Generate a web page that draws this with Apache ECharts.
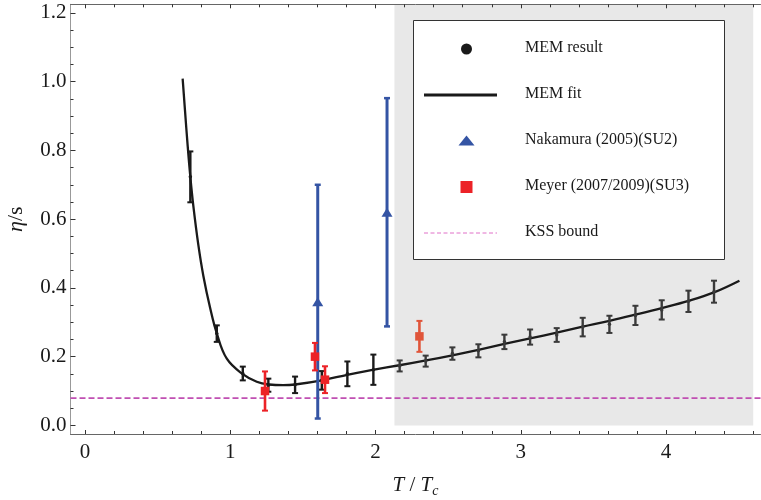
<!DOCTYPE html>
<html>
<head>
<meta charset="utf-8">
<script src="https://cdn.jsdelivr.net/npm/echarts@6/dist/echarts.min.js"></script>
<style>
  html, body { margin: 0; padding: 0; background: #fff; }
  #chart { width: 761px; height: 500px; }
</style>
</head>
<body>
<div id="chart"></div>
<script>
// MEM result: eta/s with error estimates, below and above the shaded region start
const memLowT   = [0.725, 0.907, 1.086, 1.262, 1.446, 1.630, 1.806, 1.985];
const memLowEta = [0.723, 0.267, 0.151, 0.117, 0.118, 0.131, 0.150, 0.162];
const memLowErr = [0.074, 0.024, 0.020, 0.019, 0.024, 0.027, 0.036, 0.044];

const memHighT   = [2.166, 2.345, 2.529, 2.708, 2.887, 3.064, 3.247, 3.426, 3.610, 3.789, 3.970, 4.154, 4.330];
const memHighEta = [0.173, 0.187, 0.209, 0.217, 0.243, 0.257, 0.263, 0.286, 0.294, 0.320, 0.336, 0.361, 0.389];
const memHighErr = [0.016, 0.016, 0.018, 0.019, 0.021, 0.022, 0.020, 0.027, 0.025, 0.028, 0.028, 0.031, 0.032];

// MEM fit curve
const fitT   = [0.672, 0.688, 0.705, 0.725, 0.746, 0.780, 0.815, 0.861, 0.907, 0.976, 1.086, 1.182, 1.267, 1.365, 1.446, 1.630, 1.813, 1.990, 2.164, 2.348, 2.529, 2.708, 2.887, 3.064, 3.247, 3.426, 3.610, 3.789, 3.970, 4.154, 4.330, 4.505];
const fitEta = [1.009, 0.917, 0.822, 0.723, 0.637, 0.525, 0.434, 0.342, 0.268, 0.194, 0.149, 0.127, 0.119, 0.117, 0.119, 0.131, 0.148, 0.162, 0.175, 0.189, 0.204, 0.220, 0.237, 0.253, 0.270, 0.287, 0.304, 0.322, 0.341, 0.362, 0.387, 0.421];

// Nakamura (2005) SU(2)
const nakT   = [1.602, 2.079];
const nakEta = [0.360, 0.620];
const nakErr = [0.340, 0.332];

// Meyer (2007/2009) SU(3)
const meyerT   = [1.239, 1.583, 1.652];
const meyerEta = [0.100, 0.200, 0.133];
const meyerErr = [0.057, 0.040, 0.039];
const meyer09T   = [2.302];
const meyer09Eta = [0.259];
const meyer09Err = [0.045];

// KSS bound 1/(4 pi)
const kssEta = 1 / (4 * Math.PI);

// shaded temperature window
const shadeT   = [2.13, 4.60];
const shadeEta = [0.0, 1.225];

// axis ticks
const xMajor = [0, 1, 2, 3, 4];
const xMinor = [0.2, 0.4, 0.6, 0.8, 1.2, 1.4, 1.6, 1.8, 2.2, 2.4, 2.6, 2.8, 3.2, 3.4, 3.6, 3.8, 4.2, 4.4, 4.6];
const yMajor = [0.0, 0.2, 0.4, 0.6, 0.8, 1.0, 1.2];
const yMinor = [0.05, 0.1, 0.15, 0.25, 0.3, 0.35, 0.45, 0.5, 0.55, 0.65, 0.7, 0.75, 0.85, 0.9, 0.95, 1.05, 1.1, 1.15];

const X_MIN = -0.1, X_MAX = 4.65, Y_MIN = -0.025, Y_MAX = 1.225;
const SERIF = '"Liberation Serif", "Times New Roman", serif';

const pair = (xs, ys) => xs.map((x, i) => [x, ys[i]]);
const triple = (xs, ys, es) => xs.map((x, i) => [x, ys[i], es[i]]);

function errorBars(name, data, opt) {
  return {
    type: 'custom',
    name: name,
    data: data,
    encode: { x: 0, y: 1 },
    z: opt.z || 5,
    silent: true,
    renderItem: function (params, api) {
      const x = api.value(0), y = api.value(1), e = api.value(2);
      const top = api.coord([x, y + e]);
      const bot = api.coord([x, y - e]);
      const c = api.coord([x, y]);
      const hw = opt.cap / 2;
      const children = [
        { type: 'line', shape: { x1: top[0], y1: top[1], x2: bot[0], y2: bot[1] },
          style: { stroke: opt.color, lineWidth: opt.lw } },
        { type: 'line', shape: { x1: top[0] - hw, y1: top[1], x2: top[0] + hw, y2: top[1] },
          style: { stroke: opt.color, lineWidth: opt.capW } },
        { type: 'line', shape: { x1: bot[0] - hw, y1: bot[1], x2: bot[0] + hw, y2: bot[1] },
          style: { stroke: opt.color, lineWidth: opt.capW } }
      ];
      const s = opt.size;
      if (opt.marker === 'circle') {
        children.push({ type: 'circle', shape: { cx: c[0], cy: c[1], r: s / 2 }, style: { fill: opt.color } });
      } else if (opt.marker === 'triangle') {
        const w = s[0], h = s[1];
        children.push({ type: 'polygon',
          shape: { points: [[c[0], c[1] - h / 2], [c[0] - w / 2, c[1] + h / 2], [c[0] + w / 2, c[1] + h / 2]] },
          style: { fill: opt.color } });
      } else if (opt.marker === 'square') {
        children.push({ type: 'rect', shape: { x: c[0] - s / 2, y: c[1] - s / 2, width: s, height: s },
          style: { fill: opt.color } });
      }
      return { type: 'group', children: children };
    }
  };
}

const chart = echarts.init(document.getElementById('chart'), null, { renderer: 'canvas' });

const baseX = { type: 'value', min: X_MIN, max: X_MAX, gridIndex: 0, splitLine: { show: false } };
const baseY = { type: 'value', min: Y_MIN, max: Y_MAX, gridIndex: 0, splitLine: { show: false } };
const offAxisLine = { show: false, onZero: false };

const legendRows = [49, 95, 141, 187, 233];
const legendText = ['MEM result', 'MEM fit', 'Nakamura (2005)(SU2)', 'Meyer (2007/2009)(SU3)', 'KSS bound'];

chart.setOption({
  animation: false,
  backgroundColor: '#fff',
  grid: { left: 70.5, top: 4.3, width: 690, height: 429.7, outerBoundsMode: 'none', containLabel: false },
  xAxis: [
    Object.assign({}, baseX, {
      position: 'bottom',
      axisLine: { show: true, onZero: false, lineStyle: { color: '#666', width: 1 } },
      axisTick: { show: true, inside: true, length: 4, customValues: xMajor, lineStyle: { color: '#333' } },
      axisLabel: { show: true, customValues: xMajor, margin: 8, fontFamily: SERIF, fontSize: 21, color: '#1a1a1a' },
      name: '{i|T}{n| / }{i|T}{sub|c}',
      nameLocation: 'middle',
      nameGap: 38,
      nameTextStyle: {
        rich: {
          i: { fontFamily: SERIF, fontStyle: 'italic', fontSize: 21, color: '#1a1a1a' },
          n: { fontFamily: SERIF, fontSize: 21, color: '#1a1a1a' },
          sub: { fontFamily: SERIF, fontStyle: 'italic', fontSize: 14, color: '#1a1a1a', padding: [12, 0, 0, 0] }
        }
      }
    }),
    Object.assign({}, baseX, {
      position: 'bottom',
      axisLine: offAxisLine,
      axisTick: { show: true, inside: true, length: 3, customValues: xMinor, lineStyle: { color: '#333' } },
      axisLabel: { show: false }
    }),
    Object.assign({}, baseX, {
      position: 'top',
      axisLine: { show: true, onZero: false, lineStyle: { color: '#666', width: 1 } },
      axisTick: { show: true, inside: true, length: 4, customValues: xMajor, lineStyle: { color: '#333' } },
      axisLabel: { show: false }
    }),
    Object.assign({}, baseX, {
      position: 'top',
      axisLine: offAxisLine,
      axisTick: { show: true, inside: true, length: 3, customValues: xMinor, lineStyle: { color: '#333' } },
      axisLabel: { show: false }
    })
  ],
  yAxis: [
    Object.assign({}, baseY, {
      position: 'left',
      axisLine: { show: true, onZero: false, lineStyle: { color: '#999', width: 1 } },
      axisTick: { show: true, inside: true, length: 5, customValues: yMajor, lineStyle: { color: '#333' } },
      axisLabel: { show: true, customValues: yMajor, margin: 4, fontFamily: SERIF, fontSize: 21, color: '#1a1a1a',
        formatter: v => v.toFixed(1) },
      name: '{i|η}{n|/s}',
      nameLocation: 'middle',
      nameGap: 43,
      nameRotate: 90,
      nameTextStyle: {
        rich: {
          i: { fontFamily: SERIF, fontStyle: 'italic', fontSize: 22, color: '#1a1a1a' },
          n: { fontFamily: SERIF, fontSize: 22, color: '#1a1a1a' }
        }
      }
    }),
    Object.assign({}, baseY, {
      position: 'left',
      axisLine: offAxisLine,
      axisTick: { show: true, inside: true, length: 3, customValues: yMinor, lineStyle: { color: '#333' } },
      axisLabel: { show: false }
    })
  ],
  series: [
    {
      type: 'custom',
      name: 'shade',
      data: [[shadeT[0], shadeEta[0], shadeT[1], shadeEta[1]]],
      encode: { x: [0, 2], y: [1, 3] },
      z: 0,
      silent: true,
      renderItem: function (params, api) {
        const p0 = api.coord([api.value(0), api.value(3)]);
        const p1 = api.coord([api.value(2), api.value(1)]);
        return { type: 'rect', shape: { x: p0[0], y: p0[1], width: p1[0] - p0[0], height: p1[1] - p0[1] },
          style: { fill: '#e8e8e8' } };
      }
    },
    {
      type: 'line',
      name: 'KSS bound',
      data: [[X_MIN, kssEta], [X_MAX, kssEta]],
      symbol: 'none',
      silent: true,
      z: 2,
      lineStyle: { color: '#c04fb2', width: 1.8, type: [6, 3] }
    },
    {
      type: 'line',
      name: 'MEM fit',
      data: pair(fitT, fitEta),
      symbol: 'none',
      smooth: 0.4,
      silent: true,
      z: 3,
      lineStyle: { color: '#1a1a1a', width: 2.3 }
    },
    errorBars('MEM result', triple(memLowT, memLowEta, memLowErr),
      { color: '#1a1a1a', lw: 2.4, capW: 2, cap: 6, marker: 'circle', size: 3.5 }),
    errorBars('MEM result', triple(memHighT, memHighEta, memHighErr),
      { color: '#3a3a3a', lw: 2.4, capW: 2, cap: 6, marker: 'circle', size: 3.5 }),
    errorBars('Nakamura (2005)(SU2)', triple(nakT, nakEta, nakErr),
      { color: '#3454a4', lw: 3, capW: 2.5, cap: 6, marker: 'triangle', size: [11, 9], z: 6 }),
    errorBars('Meyer (2007/2009)(SU3)', triple(meyerT, meyerEta, meyerErr),
      { color: '#ec2227', lw: 2.6, capW: 2, cap: 6, marker: 'square', size: 8.5, z: 7 }),
    errorBars('Meyer (2007/2009)(SU3)', triple(meyer09T, meyer09Eta, meyer09Err),
      { color: '#e0553a', lw: 2.6, capW: 2, cap: 6, marker: 'square', size: 8.5, z: 7 })
  ],
  graphic: [
    { type: 'rect', z: 100, shape: { x: 413.5, y: 20.5, width: 311, height: 239 },
      style: { fill: '#fff', stroke: '#333', lineWidth: 1 } },
    { type: 'circle', z: 101, shape: { cx: 466.5, cy: legendRows[0], r: 5.5 }, style: { fill: '#1a1a1a' } },
    { type: 'line', z: 101, shape: { x1: 424, y1: legendRows[1], x2: 497, y2: legendRows[1] },
      style: { stroke: '#1a1a1a', lineWidth: 3 } },
    { type: 'polygon', z: 101,
      shape: { points: [[466.5, legendRows[2] - 5.5], [458.5, legendRows[2] + 4.5], [474.5, legendRows[2] + 4.5]] },
      style: { fill: '#3454a4' } },
    { type: 'rect', z: 101, shape: { x: 460.5, y: legendRows[3] - 6, width: 12, height: 12 }, style: { fill: '#ec2227' } },
    { type: 'line', z: 101, shape: { x1: 424, y1: legendRows[4], x2: 497, y2: legendRows[4] },
      style: { stroke: '#e070c8', lineWidth: 1, lineDash: [4, 2.5] } }
  ].concat(legendText.map((t, i) => ({
    type: 'text', z: 101, x: 525, y: legendRows[i] - 1,
    style: { text: t, fill: '#1a1a1a', font: '16px ' + SERIF, textVerticalAlign: 'middle' }
  })))
});
</script>
</body>
</html>
